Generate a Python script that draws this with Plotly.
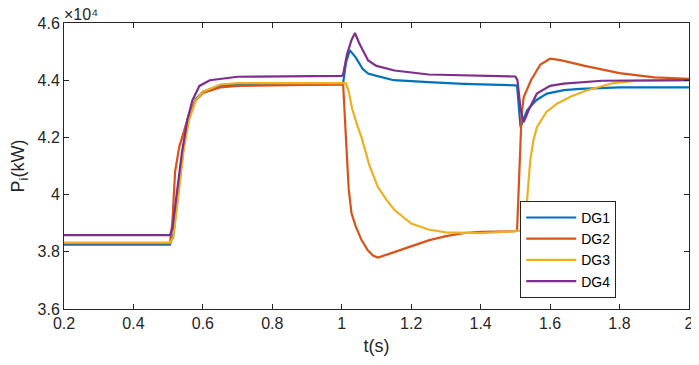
import plotly.graph_objects as go

# time (s) and power (x1e4 kW) key points
t_dg1 = [0.2, 0.505, 0.515, 0.53, 0.545, 0.56, 0.58, 0.6, 0.65, 0.7, 1.0, 1.004, 1.012, 1.023, 1.04, 1.06, 1.076, 1.1, 1.15, 1.25, 1.35, 1.5, 1.505, 1.515, 1.525, 1.534, 1.56, 1.591, 1.64, 1.686, 1.8, 2.0]
p_dg1 = [3.825, 3.825, 3.86, 4.02, 4.17, 4.27, 4.335, 4.36, 4.38, 4.385, 4.385, 4.39, 4.46, 4.505, 4.48, 4.44, 4.423, 4.415, 4.40, 4.393, 4.387, 4.382, 4.38, 4.236, 4.27, 4.295, 4.33, 4.353, 4.365, 4.37, 4.375, 4.375]

t_dg2 = [0.2, 0.505, 0.512, 0.52, 0.532, 0.545, 0.56, 0.58, 0.6, 0.65, 0.7, 1.0, 1.004, 1.012, 1.02, 1.028, 1.04, 1.057, 1.075, 1.09, 1.104, 1.13, 1.16, 1.2, 1.25, 1.3, 1.35, 1.4, 1.5, 1.505, 1.512, 1.518, 1.524, 1.545, 1.572, 1.6, 1.63, 1.7, 1.8, 1.9, 2.0]
p_dg2 = [3.83, 3.83, 3.9, 4.08, 4.167, 4.22, 4.28, 4.33, 4.355, 4.375, 4.38, 4.385, 4.385, 4.2, 4.02, 3.935, 3.89, 3.841, 3.805, 3.787, 3.78, 3.79, 3.803, 3.818, 3.84, 3.855, 3.865, 3.87, 3.872, 3.875, 4.1, 4.28, 4.34, 4.4, 4.455, 4.475, 4.47, 4.45, 4.425, 4.41, 4.405]

t_dg3 = [0.2, 0.505, 0.515, 0.53, 0.545, 0.56, 0.58, 0.6, 0.65, 0.7, 1.0, 1.012, 1.02, 1.03, 1.045, 1.057, 1.08, 1.104, 1.13, 1.152, 1.2, 1.25, 1.3, 1.4, 1.5, 1.528, 1.535, 1.543, 1.552, 1.562, 1.59, 1.62, 1.66, 1.705, 1.782, 1.85, 2.0]
p_dg3 = [3.832, 3.832, 3.85, 4.0, 4.16, 4.26, 4.33, 4.36, 4.385, 4.39, 4.392, 4.39, 4.36, 4.3, 4.24, 4.2, 4.1, 4.027, 3.98, 3.946, 3.899, 3.878, 3.868, 3.865, 3.872, 3.876, 4.0, 4.12, 4.19, 4.236, 4.29, 4.318, 4.343, 4.364, 4.39, 4.398, 4.40]

t_dg4 = [0.2, 0.505, 0.512, 0.525, 0.54, 0.555, 0.57, 0.59, 0.62, 0.7, 1.0, 1.004, 1.015, 1.028, 1.038, 1.05, 1.076, 1.1, 1.152, 1.25, 1.4, 1.5, 1.506, 1.515, 1.524, 1.54, 1.562, 1.6, 1.639, 1.75, 2.0]
p_dg4 = [3.858, 3.858, 3.88, 4.0, 4.15, 4.26, 4.33, 4.38, 4.40, 4.412, 4.415, 4.42, 4.49, 4.54, 4.565, 4.53, 4.469, 4.45, 4.434, 4.42, 4.415, 4.413, 4.40, 4.30, 4.254, 4.3, 4.353, 4.38, 4.388, 4.398, 4.40]

series_names = ["DG1", "DG2", "DG3", "DG4"]
series_colors = ["#0072BD", "#D95319", "#EDB120", "#7E2F8E"]
y_tickvals = [36000, 38000, 40000, 42000, 44000, 46000]
y_ticktext = ["3.6", "3.8", "4", "4.2", "4.4", "4.6"]
x_tickvals = [0.2, 0.4, 0.6, 0.8, 1.0, 1.2, 1.4, 1.6, 1.8, 2.0]
x_ticktext = ["0.2", "0.4", "0.6", "0.8", "1", "1.2", "1.4", "1.6", "1.8", "2"]

fig = go.Figure()
for name, color, t, p in zip(series_names, series_colors,
                             [t_dg1, t_dg2, t_dg3, t_dg4],
                             [p_dg1, p_dg2, p_dg3, p_dg4]):
    fig.add_trace(go.Scatter(x=t, y=[v * 1e4 for v in p], mode="lines", name=name,
                             line=dict(color=color, width=2.2)))

axis_col = "#262626"
font = "Liberation Sans, Arial, sans-serif"
# the page body adds an 8px offset, so the figure is sized to end at the window edge
fig.update_layout(
    width=691, height=357,
    margin=dict(l=56, r=6, t=15, b=56),
    paper_bgcolor="white", plot_bgcolor="white",
    font=dict(family=font, size=16, color=axis_col),
    showlegend=True,
    legend=dict(x=0.730, y=0.378, xanchor="left", yanchor="top",
                bgcolor="white", bordercolor=axis_col, borderwidth=1,
                itemwidth=50,
                font=dict(size=14, color="#000000"), tracegroupgap=0),
    xaxis=dict(range=[0.2, 2.0002], tickvals=x_tickvals, ticktext=x_ticktext,
               ticks="inside", ticklen=5, tickcolor=axis_col,
               ticklabeloverflow="allow",
               showline=True, linecolor=axis_col, linewidth=1, mirror="ticks",
               showgrid=False, zeroline=False,
               title=dict(text="t(s)", standoff=8, font=dict(size=18))),
    yaxis=dict(range=[36000, 46000], tickvals=y_tickvals, ticktext=y_ticktext,
               ticks="inside", ticklen=5, tickcolor=axis_col,
               ticklabeloverflow="allow",
               showline=True, linecolor=axis_col, linewidth=1, mirror="ticks",
               showgrid=False, zeroline=False,
               title=dict(text="P<sub>i</sub>(kW)", standoff=9, font=dict(size=18))),
)
fig.add_annotation(x=0, y=1.0, xref="paper", yref="paper", xanchor="left", yanchor="bottom",
                   text="×10⁴", showarrow=False, font=dict(size=16, color=axis_col),
                   yshift=-2, xshift=-2)
fig.write_html("out.html")
